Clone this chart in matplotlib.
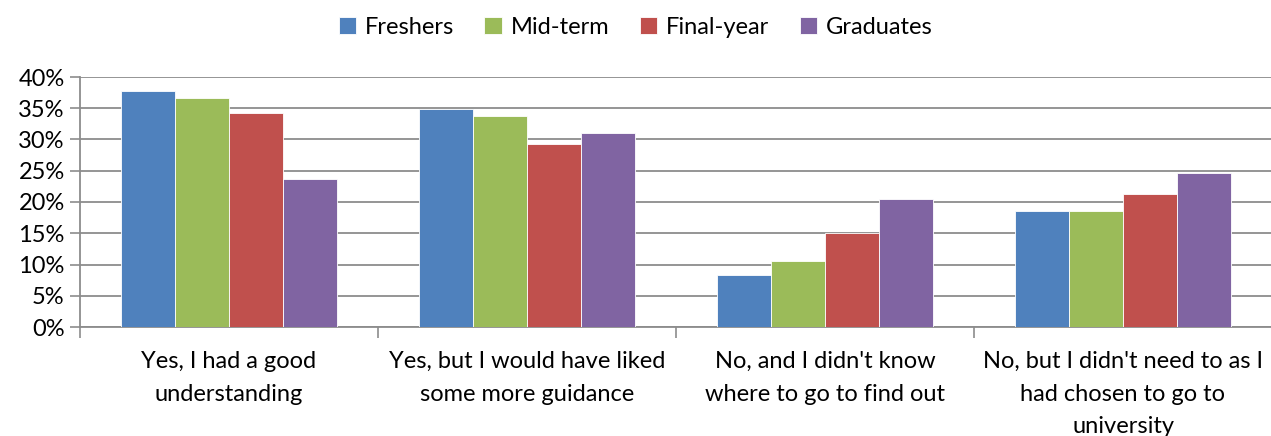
import matplotlib
matplotlib.use("Agg")
import matplotlib.pyplot as plt
import numpy as np
from matplotlib.ticker import PercentFormatter, FixedLocator

plt.rcParams['font.family'] = ['Lato', 'DejaVu Sans']

categories = ["Yes, I had a good\nunderstanding",
              "Yes, but I would have liked\nsome more guidance",
              "No, and I didn't know\nwhere to go to find out",
              "No, but I didn't need to as I\nhad chosen to go to\nuniversity"]
series_names = ["Freshers", "Mid-term", "Final-year", "Graduates"]
freshers = [37.8, 34.9, 8.3, 18.6]
mid_term = [36.7, 33.8, 10.6, 18.5]
final_year = [34.2, 29.2, 15.1, 21.3]
graduates = [23.7, 31.1, 20.4, 24.6]
colors = ["#4F81BD", "#9BBB59", "#C0504D", "#8064A2"]
y_ticks = [0, 5, 10, 15, 20, 25, 30, 35, 40]

fig = plt.figure(figsize=(12.71, 4.36), dpi=100)
ax = fig.add_axes([80/1271, 1 - 327/436, 1192/1271, 250/436])

x = np.arange(len(categories))
bw = 0.181
data = [freshers, mid_term, final_year, graduates]
for i, (vals, name, c) in enumerate(zip(data, series_names, colors)):
    ax.bar(x + (i - 1.5) * bw, vals, width=bw, color=c, label=name,
           edgecolor="white", linewidth=0.6, zorder=3)

ax.set_xlim(-0.5, 3.5)
ax.set_ylim(0, 40)
ax.set_yticks(y_ticks)
ax.yaxis.set_major_formatter(PercentFormatter(decimals=0))
ax.grid(axis='y', color="#8C8C8C", linewidth=1.3, zorder=0)
ax.set_axisbelow(True)

ax.set_xticks(x)
ax.set_xticklabels(categories, fontsize=17, linespacing=1.7, va='top')
ax.tick_params(axis='x', which='major', length=0, pad=17)
ax.xaxis.set_minor_locator(FixedLocator([-0.5, 0.5, 1.5, 2.5, 3.5]))
ax.tick_params(axis='x', which='minor', length=8, width=1.2, color="#8C8C8C")
ax.tick_params(axis='y', length=7, width=1.2, color="#8C8C8C", labelsize=17, pad=4)

for s in ['top', 'right']:
    ax.spines[s].set_visible(False)
for s in ['left', 'bottom']:
    ax.spines[s].set_color("#8C8C8C")
    ax.spines[s].set_linewidth(1.3)

fig.legend(loc='upper center', bbox_to_anchor=(0.5, 1.01), ncol=4, frameon=False,
           fontsize=17, handlelength=0.75, handleheight=0.75, handletextpad=0.35,
           columnspacing=1.3)

fig.savefig("out.png", dpi=100)
